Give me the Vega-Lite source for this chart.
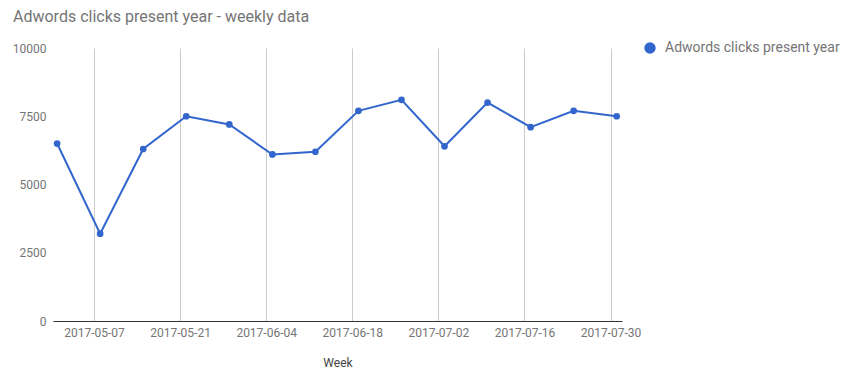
{
  "$schema": "https://vega.github.io/schema/vega-lite/v6.json",
  "width": 569,
  "height": 273,
  "autosize": {"type": "none"},
  "padding": {"left": 53, "top": 48, "right": 225, "bottom": 63},
  "background": "white",
  "title": {
    "text": "Adwords clicks present year - weekly data",
    "anchor": "start",
    "frame": "group",
    "dx": -40,
    "offset": 16,
    "fontSize": 16,
    "font": "Roboto",
    "fontWeight": "normal",
    "color": "#757575"
  },
  "config": {"view": {"stroke": null}, "font": "Roboto"},
  "data": {
    "values": [
      {"week": "2017-05-01", "clicks": 6500},
      {"week": "2017-05-08", "clicks": 3200},
      {"week": "2017-05-15", "clicks": 6300},
      {"week": "2017-05-22", "clicks": 7500},
      {"week": "2017-05-29", "clicks": 7200},
      {"week": "2017-06-05", "clicks": 6100},
      {"week": "2017-06-12", "clicks": 6200},
      {"week": "2017-06-19", "clicks": 7700},
      {"week": "2017-06-26", "clicks": 8100},
      {"week": "2017-07-03", "clicks": 6400},
      {"week": "2017-07-10", "clicks": 8000},
      {"week": "2017-07-17", "clicks": 7100},
      {"week": "2017-07-24", "clicks": 7700},
      {"week": "2017-07-31", "clicks": 7500}
    ]
  },
  "encoding": {
    "x": {
      "field": "week",
      "type": "temporal",
      "scale": {"type": "utc", "domain": [1493539200000, 1501533600000]},
      "axis": {
        "values": [
          {"year": 2017, "month": "May", "date": 7, "utc": true},
          {"year": 2017, "month": "May", "date": 21, "utc": true},
          {"year": 2017, "month": "Jun", "date": 4, "utc": true},
          {"year": 2017, "month": "Jun", "date": 18, "utc": true},
          {"year": 2017, "month": "Jul", "date": 2, "utc": true},
          {"year": 2017, "month": "Jul", "date": 16, "utc": true},
          {"year": 2017, "month": "Jul", "date": 30, "utc": true}
        ],
        "labelExpr": "utcFormat(datum.value, '%Y-%m-%d')",
        "grid": true,
        "gridColor": "#cccccc",
        "ticks": false,
        "domainColor": "#333333",
        "labelFontSize": 12,
        "labelColor": "#757575",
        "labelPadding": 6,
        "labelFont": "Roboto",
        "title": "Week",
        "titleFont": "Roboto",
        "titleFontSize": 12,
        "titleFontWeight": "normal",
        "titleColor": "#444444",
        "titlePadding": 19
      }
    },
    "y": {
      "field": "clicks",
      "type": "quantitative",
      "scale": {"domain": [0, 10000], "nice": false},
      "axis": {
        "values": [0, 2500, 5000, 7500, 10000],
        "format": "d",
        "grid": false,
        "domain": false,
        "ticks": false,
        "labelPadding": 7,
        "labelFontSize": 12,
        "labelColor": "#757575",
        "labelFont": "Roboto",
        "title": null
      }
    }
  },
  "layer": [
    {
      "mark": {"type": "line", "color": "#3366CC", "strokeWidth": 2}
    },
    {
      "mark": {"type": "point", "filled": true, "opacity": 1, "size": 45},
      "encoding": {
        "color": {
          "datum": "Adwords clicks present year",
          "scale": {"range": ["#3366CC"]},
          "legend": {
            "orient": "none",
            "legendX": 590,
            "legendY": -7,
            "title": null,
            "symbolType": "circle",
            "symbolSize": 130,
            "labelFontSize": 14,
            "labelFont": "Roboto",
            "labelColor": "#757575",
            "labelOffset": 8,
            "labelLimit": 300
          }
        }
      }
    }
  ]
}
